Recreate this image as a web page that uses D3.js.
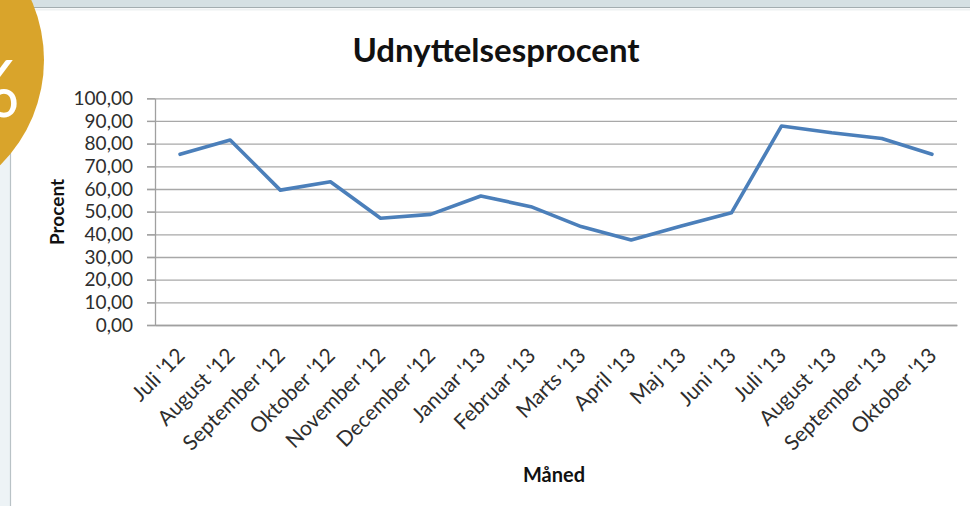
<!DOCTYPE html>
<html>
<head>
<meta charset="utf-8">
<script src="https://cdn.jsdelivr.net/npm/d3@7"></script>
<style>
  html, body { margin: 0; padding: 0; background: #ffffff; }
  svg { display: block; }
</style>
</head>
<body>
<script>
// ---- data ----
const categories = ["Juli '12", "August '12", "September '12", "Oktober '12", "November '12", "December '12",
  "Januar '13", "Februar '13", "Marts '13", "April '13", "Maj '13", "Juni '13",
  "Juli '13", "August '13", "September '13", "Oktober '13"];
const values = [75.3, 81.6, 59.5, 63.2, 47.1, 48.8, 56.9, 52.2, 43.4, 37.5, 43.7, 49.5, 87.8, 84.8, 82.3, 75.3];
const yTicks = [0, 10, 20, 30, 40, 50, 60, 70, 80, 90, 100];
const title = "Udnyttelsesprocent";
const yTitle = "Procent";
const xTitle = "Måned";

// ---- setup ----
const W = 970, H = 506;
const svg = d3.select("body").append("svg").attr("width", W).attr("height", H);
const font = "Lato, 'Open Sans', sans-serif";

// page decorations
svg.append("rect").attr("x", 0).attr("y", 0).attr("width", W).attr("height", H).attr("fill", "#ffffff");
svg.append("rect").attr("x", 0).attr("y", 0).attr("width", 10).attr("height", H).attr("fill", "#edf3f6");
svg.append("line").attr("x1", 10.5).attr("x2", 10.5).attr("y1", 0).attr("y2", H).attr("stroke", "#b9c2c6").attr("stroke-width", 1.2);
svg.append("rect").attr("x", 0).attr("y", 0).attr("width", W).attr("height", 7).attr("fill", "#d5e0e3");
svg.append("line").attr("x1", 0).attr("x2", W).attr("y1", 7.5).attr("y2", 7.5).attr("stroke", "#a3adb0").attr("stroke-width", 1.2);
svg.append("line").attr("x1", 0).attr("x2", W).attr("y1", 9.5).attr("y2", 9.5).attr("stroke", "#eef1f2").attr("stroke-width", 2);
svg.append("circle").attr("cx", -104).attr("cy", 60).attr("r", 148).attr("fill", "#d9a42b");
svg.append("text").attr("x", 20).attr("y", 117).attr("text-anchor", "end")
  .attr("font-family", font).attr("font-size", 80).attr("fill", "#ffffff").text("%");

// ---- scales ----
const plotL = 155, plotR = 957, plotT = 98.3, plotB = 325;
const x = d3.scaleBand().domain(categories).range([plotL, plotR]);
const y = d3.scaleLinear().domain([0, 100]).range([plotB, plotT]);
const fmt = d3.formatLocale({ decimal: ",", thousands: ".", grouping: [3], currency: ["", " kr"] }).format(".2f");

// gridlines
const grid = svg.append("g").attr("transform", `translate(${plotL - 8},0)`)
  .call(d3.axisRight(y).tickValues(yTicks).tickSize(plotR - plotL + 8).tickFormat(""));
grid.select(".domain").remove();
grid.selectAll(".tick line").attr("stroke", "#a8a8a8").attr("stroke-width", 1.3);

// y axis
const yAx = svg.append("g").attr("transform", `translate(${plotL},0)`)
  .call(d3.axisLeft(y).tickValues(yTicks).tickSizeInner(8).tickSizeOuter(0).tickPadding(14).tickFormat(fmt));
yAx.select(".domain").attr("stroke", "#a0a0a0").attr("stroke-width", 1.3);
yAx.selectAll(".tick line").attr("stroke", "#a0a0a0").attr("stroke-width", 1.3);
yAx.selectAll("text").attr("font-family", font).attr("font-size", 19).attr("fill", "#2e2e2e");

// x axis
const xAx = svg.append("g").attr("transform", `translate(0,${plotB})`)
  .call(d3.axisBottom(x).tickSize(0).tickSizeOuter(0));
xAx.select(".domain").attr("stroke", "#a0a0a0").attr("stroke-width", 1.3);
xAx.selectAll("text")
  .attr("x", 0).attr("y", 0).attr("dy", 0)
  .attr("text-anchor", "end")
  .attr("transform", "translate(6,32) rotate(-45)")
  .attr("font-family", font).attr("font-size", 21).attr("fill", "#2e2e2e");

// line
const line = d3.line()
  .x((d, i) => x(categories[i]) + x.bandwidth() / 2)
  .y(d => y(d));
svg.append("path").datum(values)
  .attr("d", line)
  .attr("fill", "none")
  .attr("stroke", "#4b7fba")
  .attr("stroke-width", 3.6)
  .attr("stroke-linejoin", "round")
  .attr("stroke-linecap", "round");

// titles
svg.append("text").attr("x", 496).attr("y", 62).attr("text-anchor", "middle")
  .attr("font-family", font).attr("font-weight", "bold").attr("font-size", 33).attr("fill", "#111")
  .text(title);
svg.append("text").attr("transform", "translate(64,212) rotate(-90)").attr("text-anchor", "middle")
  .attr("font-family", font).attr("font-weight", "bold").attr("font-size", 19).attr("fill", "#111")
  .text(yTitle);
svg.append("text").attr("x", 554).attr("y", 482).attr("text-anchor", "middle")
  .attr("font-family", font).attr("font-weight", "bold").attr("font-size", 20).attr("fill", "#111")
  .text(xTitle);
</script>
</body>
</html>
